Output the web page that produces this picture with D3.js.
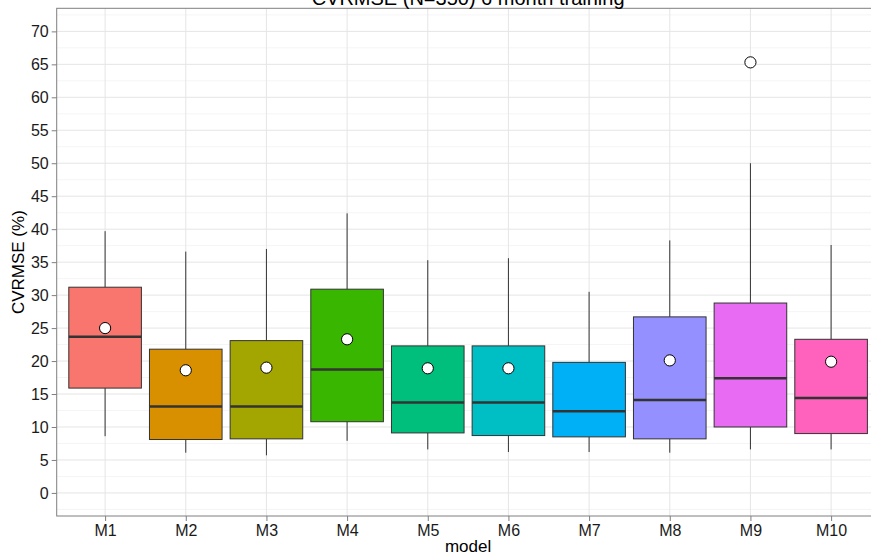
<!DOCTYPE html>
<html>
<head>
<meta charset="utf-8">
<script src="https://cdn.jsdelivr.net/npm/d3@7"></script>
<style>
  html, body { margin: 0; padding: 0; background: #fff; }
  svg { display: block; font-family: "Liberation Sans", Arial, Helvetica, sans-serif; }
</style>
</head>
<body>
<svg id="chart" width="871" height="555"></svg>
<script>
const models = ["M1","M2","M3","M4","M5","M6","M7","M8","M9","M10"];
const whiskerLow  = [8.6, 6.1, 5.7, 7.9, 6.6, 6.2, 6.2, 6.1, 6.6, 6.6];
const q1          = [15.9, 8.1, 8.2, 10.8, 9.1, 8.7, 8.5, 8.2, 10.0, 9.0];
const median      = [23.7, 13.1, 13.1, 18.7, 13.7, 13.7, 12.4, 14.1, 17.4, 14.4];
const q3          = [31.2, 21.8, 23.1, 30.9, 22.3, 22.3, 19.8, 26.7, 28.8, 23.3];
const whiskerHigh = [39.7, 36.6, 37.0, 42.4, 35.3, 35.6, 30.5, 38.3, 50.0, 37.6];
const meanVal     = [25.0, 18.6, 19.0, 23.3, 18.9, 18.9, null, 20.1, 65.3, 19.9];
const colors = ["#F8766D","#D89000","#A3A500","#39B600","#00BF7D","#00BFC4","#00B0F6","#9590FF","#E76BF3","#FF62BC"];
const yTicks = [0,5,10,15,20,25,30,35,40,45,50,55,60,65,70];
const yMinor = [-2.5,2.5,7.5,12.5,17.5,22.5,27.5,32.5,37.5,42.5,47.5,52.5,57.5,62.5,67.5,72.5];
const titleText = "CVRMSE (N=350) 6 month training";
const xTitle = "model";
const yTitle = "CVRMSE (%)";

const data = models.map((m, i) => ({
  model: m, lo: whiskerLow[i], q1: q1[i], med: median[i], q3: q3[i],
  hi: whiskerHigh[i], mean: meanVal[i], color: colors[i]
}));

const svg = d3.select("#chart");
const panel = { left: 56.7, right: 879.5, top: 8.3, bottom: 516 };

const x = d3.scalePoint().domain(models).range([panel.left, panel.right]).padding(0.6);
const y = d3.scaleLinear().domain([-3.5, 73.5]).range([panel.bottom, panel.top]);
const boxW = x.step() * 0.9;

// panel background
svg.append("rect").attr("x", panel.left).attr("y", panel.top)
  .attr("width", panel.right - panel.left).attr("height", panel.bottom - panel.top)
  .attr("fill", "#fff");

// minor grid
svg.append("g").selectAll("line").data(yMinor).join("line")
  .attr("x1", panel.left).attr("x2", panel.right)
  .attr("y1", d => y(d)).attr("y2", d => y(d))
  .attr("stroke", "#f5f5f5").attr("stroke-width", 1);

// major grid
svg.append("g").selectAll("line").data(yTicks).join("line")
  .attr("x1", panel.left).attr("x2", panel.right)
  .attr("y1", d => y(d)).attr("y2", d => y(d))
  .attr("stroke", "#e5e5e5").attr("stroke-width", 1);
svg.append("g").selectAll("line").data(models).join("line")
  .attr("x1", d => x(d)).attr("x2", d => x(d))
  .attr("y1", panel.top).attr("y2", panel.bottom)
  .attr("stroke", "#e5e5e5").attr("stroke-width", 1);

// boxes
const g = svg.append("g").selectAll("g").data(data).join("g");
g.append("line")
  .attr("x1", d => x(d.model)).attr("x2", d => x(d.model))
  .attr("y1", d => y(d.hi)).attr("y2", d => y(d.q3))
  .attr("stroke", "#333").attr("stroke-width", 1);
g.append("line")
  .attr("x1", d => x(d.model)).attr("x2", d => x(d.model))
  .attr("y1", d => y(d.q1)).attr("y2", d => y(d.lo))
  .attr("stroke", "#333").attr("stroke-width", 1);
g.append("rect")
  .attr("x", d => x(d.model) - boxW / 2).attr("width", boxW)
  .attr("y", d => y(d.q3)).attr("height", d => y(d.q1) - y(d.q3))
  .attr("fill", d => d.color).attr("stroke", "#333").attr("stroke-width", 1);
g.append("line")
  .attr("x1", d => x(d.model) - boxW / 2).attr("x2", d => x(d.model) + boxW / 2)
  .attr("y1", d => y(d.med)).attr("y2", d => y(d.med))
  .attr("stroke", "#333").attr("stroke-width", 2.5);
g.filter(d => d.mean != null).append("circle")
  .attr("cx", d => x(d.model)).attr("cy", d => y(d.mean)).attr("r", 5.6)
  .attr("fill", "#fff").attr("stroke", "#000").attr("stroke-width", 1);

// panel border
svg.append("rect").attr("x", panel.left).attr("y", panel.top)
  .attr("width", panel.right - panel.left).attr("height", panel.bottom - panel.top)
  .attr("fill", "none").attr("stroke", "#7f7f7f").attr("stroke-width", 1);

// y axis
const yAxis = d3.axisLeft(y).tickValues(yTicks).tickSize(5).tickPadding(3);
const ya = svg.append("g").attr("transform", `translate(${panel.left},0)`).call(yAxis);
ya.select(".domain").remove();
ya.selectAll(".tick line").attr("stroke", "#7f7f7f");
ya.selectAll(".tick text").attr("font-size", 16).attr("fill", "#1a1a1a")
  .attr("font-family", "'Liberation Sans', Arial, sans-serif");

// x axis
const xAxis = d3.axisBottom(x).tickSize(5).tickPadding(4);
const xa = svg.append("g").attr("transform", `translate(0,${panel.bottom})`).call(xAxis);
xa.select(".domain").remove();
xa.selectAll(".tick line").attr("stroke", "#7f7f7f");
xa.selectAll(".tick text").attr("font-size", 16).attr("fill", "#1a1a1a")
  .attr("font-family", "'Liberation Sans', Arial, sans-serif");

// titles
svg.append("text").attr("x", (panel.left + panel.right) / 2).attr("y", 5)
  .attr("text-anchor", "middle").attr("font-size", 20).attr("fill", "#000")
  .text(titleText);
svg.append("text").attr("x", (panel.left + panel.right) / 2).attr("y", 552)
  .attr("text-anchor", "middle").attr("font-size", 17).attr("fill", "#000")
  .text(xTitle);
svg.append("text")
  .attr("transform", `translate(24,${(panel.top + panel.bottom) / 2}) rotate(-90)`)
  .attr("text-anchor", "middle").attr("font-size", 17).attr("fill", "#000")
  .text(yTitle);
</script>
</body>
</html>
